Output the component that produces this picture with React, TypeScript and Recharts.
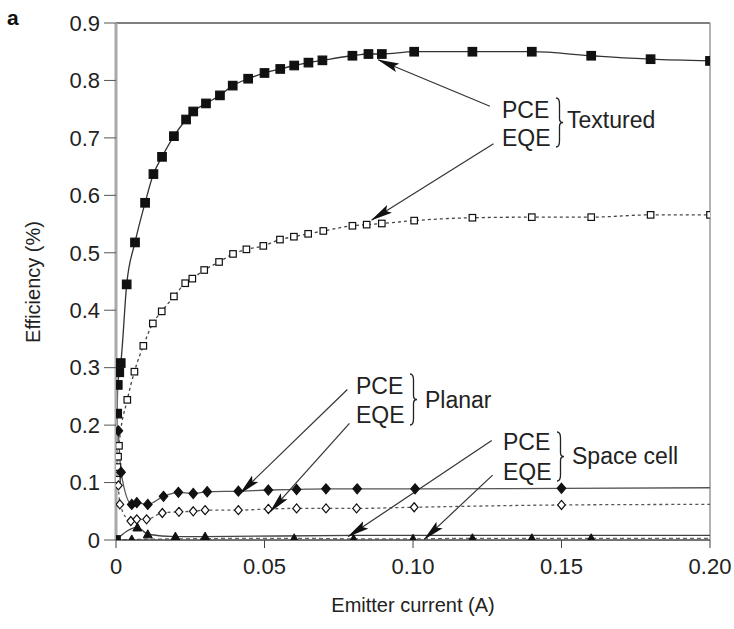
import { LineChart, Line, XAxis, YAxis, ReferenceLine } from 'recharts';

const FONT = '"Liberation Sans", Arial, Helvetica, sans-serif';

// tick values
const xTicks = [0, 0.05, 0.1, 0.15, 0.2];
const yTicks = [0, 0.1, 0.2, 0.3, 0.4, 0.5, 0.6, 0.7, 0.8, 0.9];

// [emitter current (A), efficiency (%)]
const texturedPce: number[][] = [
  [0, 0], [0.0004, 0.22], [0.0006, 0.27], [0.0011, 0.292], [0.0016, 0.308], [0.0036, 0.445],
  [0.0064, 0.518], [0.0098, 0.587], [0.0126, 0.637], [0.0155, 0.667], [0.0195, 0.703],
  [0.0236, 0.732], [0.026, 0.746], [0.0303, 0.76], [0.035, 0.774], [0.0393, 0.791],
  [0.0445, 0.803], [0.05, 0.813], [0.0553, 0.82], [0.06, 0.826], [0.0648, 0.831],
  [0.0695, 0.835], [0.0796, 0.843], [0.085, 0.846], [0.0895, 0.846], [0.1004, 0.85],
  [0.12, 0.85], [0.14, 0.85], [0.16, 0.843], [0.18, 0.837], [0.2, 0.834],
];

const texturedEqe: number[][] = [
  [0.0003, 0.105], [0.0005, 0.127], [0.0007, 0.145], [0.001, 0.164], [0.0038, 0.244],
  [0.0062, 0.293], [0.0092, 0.338], [0.0124, 0.377], [0.0154, 0.398], [0.0195, 0.424],
  [0.0233, 0.447], [0.0257, 0.455], [0.0297, 0.47], [0.0347, 0.484], [0.0394, 0.498],
  [0.0439, 0.506], [0.0496, 0.512], [0.0552, 0.523], [0.0599, 0.528], [0.0647, 0.533],
  [0.0698, 0.538], [0.0796, 0.547], [0.0844, 0.549], [0.0895, 0.551], [0.1004, 0.556],
  [0.12, 0.561], [0.14, 0.562], [0.16, 0.562], [0.18, 0.566], [0.2, 0.566],
];

const planarPce: number[][] = [
  [0.0008, 0.19], [0.0017, 0.118], [0.0053, 0.062], [0.007, 0.065], [0.0107, 0.062],
  [0.016, 0.076], [0.021, 0.083], [0.026, 0.081], [0.0307, 0.084], [0.0412, 0.085],
  [0.0513, 0.087], [0.0608, 0.088], [0.0707, 0.089], [0.0812, 0.089], [0.1007, 0.089],
  [0.15, 0.09], [0.2, 0.091],
];

const planarEqe: number[][] = [
  [0.0008, 0.095], [0.0013, 0.062], [0.005, 0.033], [0.007, 0.036], [0.0103, 0.036],
  [0.0156, 0.047], [0.0212, 0.049], [0.026, 0.05], [0.03, 0.052], [0.0412, 0.052],
  [0.0513, 0.054], [0.0608, 0.055], [0.0707, 0.055], [0.081, 0.055], [0.1004, 0.057],
  [0.15, 0.061], [0.2, 0.062],
];

const spacePce: number[][] = [
  [0, 0], [0.0072, 0.022], [0.0107, 0.01], [0.02, 0.006], [0.03, 0.006],
  [0.08, 0.008], [0.2, 0.008],
];

const spaceEqe: number[][] = [
  [0, 0], [0.0053, 0.001], [0.06, 0.003], [0.08, 0.002], [0.1, 0.002],
  [0.12, 0.003], [0.14, 0.003], [0.16, 0.003], [0.2, 0.003],
];

type Shape = 'square' | 'diamond' | 'triangle';
type Series = {
  name: string;
  points: number[][];
  shape: Shape;
  filled: boolean;
  size: number;
  dash?: string;
  stroke: string;
  dotFrom: number; // first index with a marker
  dotTo: number; // last index with a marker
};

const series: Series[] = [
  { name: 'texPce', points: texturedPce, shape: 'square', filled: true, size: 8.5, stroke: '#333', dotFrom: 0, dotTo: 99 },
  { name: 'texEqe', points: texturedEqe, shape: 'square', filled: false, size: 6.5, dash: '3 3', stroke: '#444', dotFrom: 0, dotTo: 99 },
  { name: 'plaPce', points: planarPce, shape: 'diamond', filled: true, size: 10, stroke: '#555', dotFrom: 0, dotTo: planarPce.length - 2 },
  { name: 'plaEqe', points: planarEqe, shape: 'diamond', filled: false, size: 9, dash: '3 3', stroke: '#555', dotFrom: 0, dotTo: planarEqe.length - 2 },
  { name: 'spcPce', points: spacePce, shape: 'triangle', filled: true, size: 9, stroke: '#444', dotFrom: 1, dotTo: 4 },
  { name: 'spcEqe', points: spaceEqe, shape: 'triangle', filled: true, size: 9, dash: '4 3', stroke: '#666', dotFrom: 1, dotTo: spaceEqe.length - 2 },
];

// annotation arrows, from label to curve, in data units
const arrows: number[][][] = [
  [[0.1259, 0.755], [0.0883, 0.836]],
  [[0.1271, 0.69], [0.0861, 0.557]],
  [[0.0779, 0.262], [0.0418, 0.081]],
  [[0.0786, 0.203], [0.0519, 0.049]],
  [[0.1265, 0.173], [0.0782, 0.006]],
  [[0.1268, 0.113], [0.1038, 0.001]],
];

function Marker({ cx, cy, s }: { cx: number; cy: number; s: Series }) {
  const h = s.size / 2;
  const fill = s.filled ? '#111' : '#fff';
  const stroke = '#111';
  if (s.shape === 'square') {
    return <rect x={cx - h} y={cy - h} width={s.size} height={s.size} fill={fill} stroke={stroke} strokeWidth={1.2} />;
  }
  if (s.shape === 'diamond') {
    return <path d={`M${cx},${cy - h} L${cx + h * 0.85},${cy} L${cx},${cy + h} L${cx - h * 0.85},${cy} Z`} fill={fill} stroke={stroke} strokeWidth={1.2} />;
  }
  return <path d={`M${cx},${cy - h} L${cx + h},${cy + h * 0.8} L${cx - h},${cy + h * 0.8} Z`} fill={fill} stroke={stroke} strokeWidth={1} />;
}

function brace(x: number, y0: number, y1: number) {
  const w = 7;
  const m = (y0 + y1) / 2;
  return `M${x},${y0} Q${x + w / 2},${y0} ${x + w / 2},${y0 + 6} L${x + w / 2},${m - 4} Q${x + w / 2},${m} ${x + w},${m} Q${x + w / 2},${m} ${x + w / 2},${m + 4} L${x + w / 2},${y1 - 6} Q${x + w / 2},${y1} ${x},${y1}`;
}

const textStyle = { fontFamily: FONT, fontSize: 23, fill: '#222' };

export default function App() {
  return (
    <div style={{ position: 'absolute', left: 0, top: 0, background: '#fff' }}>
      <LineChart width={734} height={629} margin={{ top: 23, right: 24, left: 0, bottom: 49 }}>
        <defs>
          <marker id="arrowHead" markerUnits="userSpaceOnUse" markerWidth="22" markerHeight="10" refX="21" refY="5" orient="auto">
            <path d="M0,0.5 L22,5 L0,9.5 L4,5 Z" fill="#111" />
          </marker>
        </defs>
        <XAxis
          type="number"
          dataKey="x"
          domain={[0, 0.2]}
          ticks={xTicks}
          allowDataOverflow
          height={40}
          tickSize={8}
          tickMargin={10}
          tickFormatter={(v) => (v === 0 ? '0' : Number(v).toFixed(2))}
          tick={{ fontFamily: FONT, fontSize: 22, fill: '#222' }}
          axisLine={{ stroke: '#444', strokeWidth: 1.5 }}
          tickLine={{ stroke: '#444' }}
        />
        <YAxis
          type="number"
          dataKey="y"
          domain={[0, 0.9]}
          ticks={yTicks}
          allowDataOverflow
          width={116}
          tickSize={12}
          tickMargin={4}
          tickFormatter={(v) => (v === 0 ? '0' : Number(v).toFixed(1))}
          tick={{ fontFamily: FONT, fontSize: 22, fill: '#222' }}
          axisLine={{ stroke: '#aaa', strokeWidth: 3 }}
          tickLine={{ stroke: '#555' }}
        />
        <ReferenceLine y={0.9} stroke="#555" strokeWidth={1.5} />
        <ReferenceLine x={0.2} stroke="#999" strokeWidth={1.5} />
        {series.map((s) => (
          <Line
            key={s.name}
            data={s.points.map(([x, y]) => ({ x, y }))}
            dataKey="y"
            type="monotone"
            stroke={s.stroke}
            strokeWidth={1.3}
            strokeDasharray={s.dash}
            isAnimationActive={false}
            dot={(p: any) =>
              p.index >= s.dotFrom && p.index <= s.dotTo ? (
                <Marker key={`${s.name}-${p.index}`} cx={p.cx} cy={p.cy} s={s} />
              ) : (
                <g key={`${s.name}-${p.index}`} />
              )
            }
            activeDot={false}
          />
        ))}
        {arrows.map(([a, b], i) => (
          <ReferenceLine
            key={`arrow-${i}`}
            segment={[{ x: a[0], y: a[1] }, { x: b[0], y: b[1] }]}
            stroke="#333"
            strokeWidth={1.2}
            markerEnd="url(#arrowHead)"
          />
        ))}

        {/* panel letter and axis titles */}
        <text x={7} y={25} style={{ fontFamily: FONT, fontSize: 21, fontWeight: 'bold', fill: '#111' }}>a</text>
        <text x={413} y={612} textAnchor="middle" style={{ fontFamily: FONT, fontSize: 20, fill: '#222' }}>Emitter current (A)</text>
        <text x={40} y={282} textAnchor="middle" transform="rotate(-90, 40, 282)" style={{ fontFamily: FONT, fontSize: 20, fill: '#222' }}>Efficiency (%)</text>

        {/* group labels */}
        <text x={502} y={118} style={textStyle}>PCE</text>
        <text x={502} y={146} style={textStyle}>EQE</text>
        <path d={brace(556, 98, 147)} fill="none" stroke="#222" strokeWidth={1.3} />
        <text x={567} y={128} style={textStyle}>Textured</text>

        <text x={356} y={394} style={textStyle}>PCE</text>
        <text x={356} y={423} style={textStyle}>EQE</text>
        <path d={brace(410, 374, 425)} fill="none" stroke="#222" strokeWidth={1.3} />
        <text x={425} y={408} style={textStyle}>Planar</text>

        <text x={503} y={450} style={textStyle}>PCE</text>
        <text x={503} y={480} style={textStyle}>EQE</text>
        <path d={brace(557, 432, 481)} fill="none" stroke="#222" strokeWidth={1.3} />
        <text x={572} y={464} style={textStyle}>Space cell</text>
      </LineChart>
    </div>
  );
}
